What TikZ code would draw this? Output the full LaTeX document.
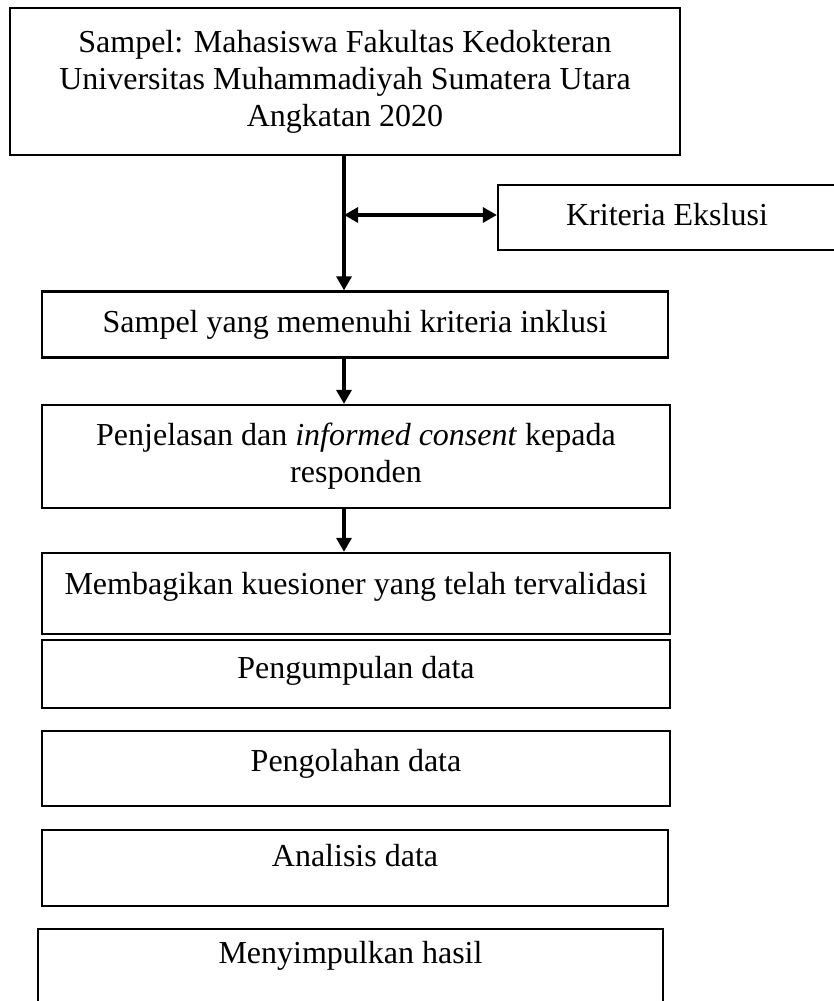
\documentclass[tikz,border=0pt]{standalone}
\usepackage{fontspec}
\setmainfont{Liberation Serif}
\usepackage{tikz}
\usetikzlibrary{arrows.meta, positioning, calc}

\begin{document}
\begin{tikzpicture}[
  x=0.375pt, y=-0.375pt,
  >={Triangle[length=5.3pt,width=5.6pt]},
  box/.style={draw, line width=0.8pt, inner sep=0pt, align=center,
              font=\fontsize{12}{13.9}\selectfont},
  oneline/.style={text height=9pt, text depth=#1},
  oneline/.default=3pt,
  edge/.style={->, line width=1.4pt},
]
\path[use as bounding box] (0,0) rectangle (833,1001);
\node[box, minimum width=251.25pt, minimum height=55.1pt] (sample) at (345,81.5)
  {Sampel: Mahasiswa Fakultas Kedokteran\\
   Universitas Muhammadiyah Sumatera Utara\\ Angkatan 2020};
\node[box, oneline, minimum width=126.75pt, minimum height=24.3pt] (excl) at (667,217.5)
  {Kriteria Ekslusi};
\node[box, oneline, minimum width=234.75pt, minimum height=24.75pt] (incl) at (355,324.5)
  {Sampel yang memenuhi kriteria inklusi};
\node[box, minimum width=235.5pt, minimum height=38.6pt] (consent) at (356,456.5)
  {Penjelasan dan \textit{informed consent} kepada\\ responden};
\node[box, oneline=8.6pt, minimum width=235.5pt, minimum height=30.4pt] (quest) at (356,593.5)
  {Membagikan kuesioner yang telah tervalidasi};
\node[box, oneline=6pt, minimum width=235.5pt, minimum height=25.5pt] (collect) at (356,674)
  {Pengumpulan data};
\node[box, oneline=7.1pt, minimum width=235.5pt, minimum height=28.1pt] (process) at (356,768.5)
  {Pengolahan data};
\node[box, oneline=10.5pt, minimum width=234.75pt, minimum height=28.5pt] (analysis) at (355,868)
  {Analisis data};
\node[box, oneline=11.6pt, minimum width=234.4pt, minimum height=28.1pt] (conclude) at (350.5,966.5)
  {Menyimpulkan hasil};
\coordinate (split) at (344,215);

\draw[edge] (sample.south -| split) -- (split |- incl.north);
\draw[edge, <->] (split) -- (excl.west |- split);
\draw[edge] (incl.south -| split) -- (split |- consent.north);
\draw[edge] (consent.south -| split) -- (split |- quest.north);
\end{tikzpicture}
\end{document}
